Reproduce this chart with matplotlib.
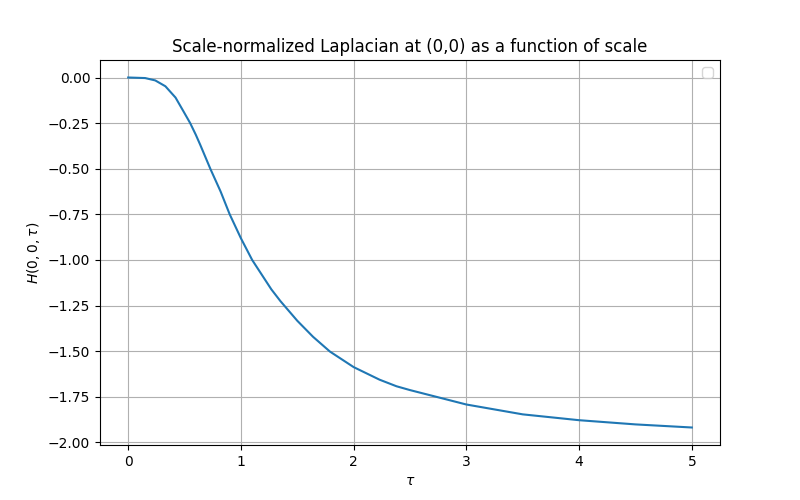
import numpy as np
import matplotlib
matplotlib.use("Agg")
import matplotlib.pyplot as plt

# values
tau = [0, 0.15, 0.24, 0.33, 0.42, 0.49, 0.55, 0.60, 0.64, 0.73, 0.82, 0.90,
       1.0, 1.10, 1.27, 1.35, 1.50, 1.64, 1.79, 2.0, 2.23, 2.38, 2.5, 3.0,
       3.5, 4.0, 4.5, 5.0]
H = [0, -0.003, -0.016, -0.048, -0.11, -0.185, -0.25, -0.314, -0.37, -0.502,
     -0.625, -0.749, -0.881, -1.0, -1.161, -1.225, -1.333, -1.421, -1.502,
     -1.587, -1.656, -1.692, -1.713, -1.792, -1.846, -1.878, -1.901, -1.918]

fig = plt.figure(figsize=(8, 5), dpi=100)
plt.plot(tau, H)
plt.title('Scale-normalized Laplacian at (0,0) as a function of scale')
plt.xlabel(r'$\tau$')
plt.ylabel(r'$H(0,0,\tau)$')
plt.grid(True)
plt.legend()
plt.savefig('out.png')
